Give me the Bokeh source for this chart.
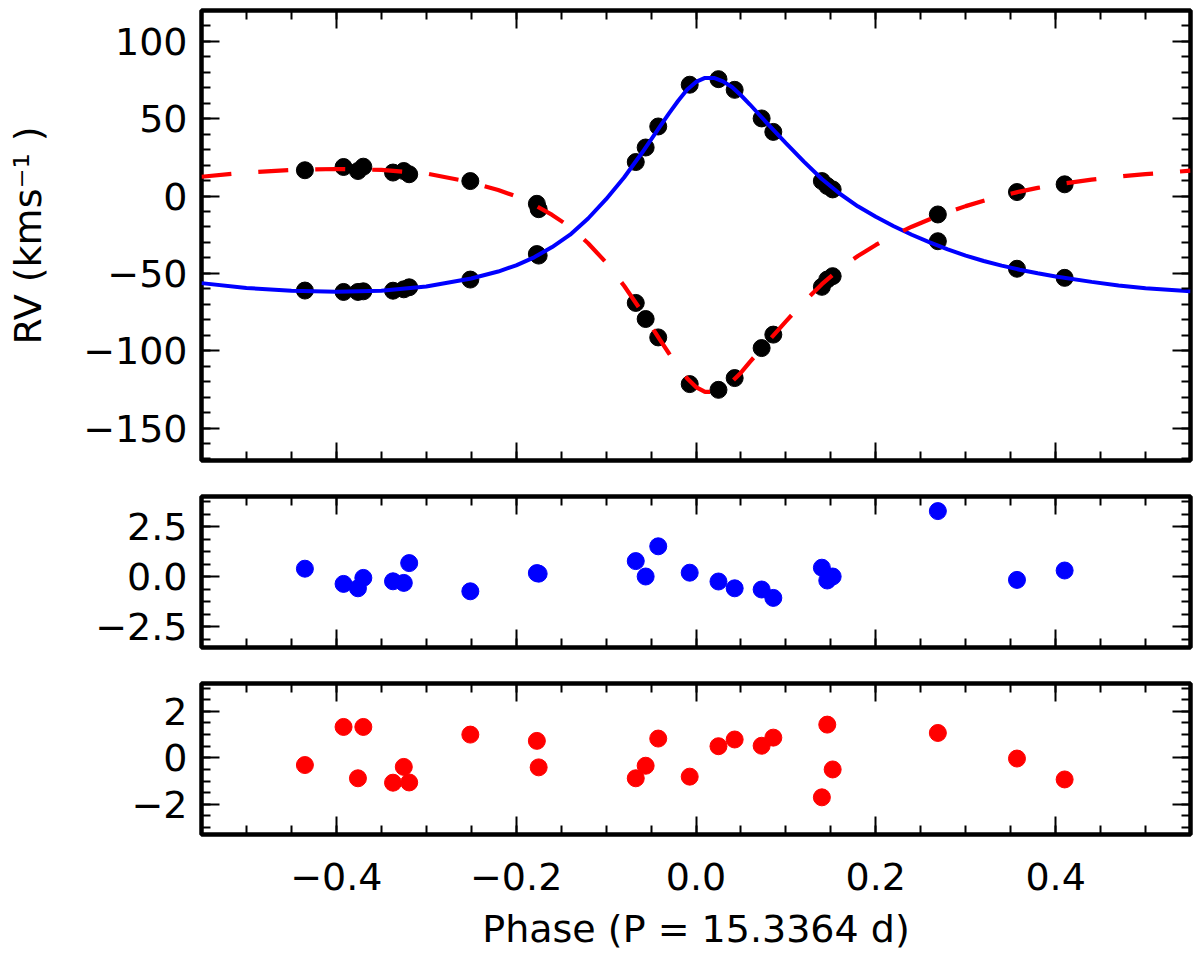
from bokeh.plotting import figure
from bokeh.layouts import column
from bokeh.models import (Range1d, LinearAxis, SingleIntervalTicker,
                          CustomJSTickFormatter)
from bokeh.embed import file_html
from bokeh.resources import INLINE

# observed phases (P = 15.3364 d)
phase = [-0.435, -0.392, -0.376, -0.370, -0.337, -0.325, -0.319, -0.251,
         -0.177, -0.175, -0.067, -0.056, -0.042, -0.007, 0.025, 0.043,
         0.073, 0.086, 0.140, 0.146, 0.152, 0.269, 0.357, 0.410]

# measured RVs (km/s)
rv_primary = [-61.1, -62.0, -62.0, -61.6, -61.2, -60.3, -59.0, -54.0,
              -37.5, -38.5, 22.0, 31.4, 45.0, 72.0, 75.6, 68.7,
              50.2, 41.5, 9.7, 6.5, 4.3, -29.2, -47.0, -52.9]
rv_secondary = [16.7, 18.8, 16.2, 19.0, 15.2, 16.2, 14.1, 9.7,
                -5.0, -8.5, -69.1, -79.5, -91.4, -121.6, -125.3, -117.7,
                -98.3, -89.6, -58.7, -54.0, -51.8, -11.9, 2.6, 7.6]

# residuals O-C (km/s)
res_primary = [0.39, -0.37, -0.59, -0.07, -0.24, -0.32, 0.67, -0.74,
               0.17, 0.14, 0.77, 0.0, 1.51, 0.19, -0.25, -0.59,
               -0.65, -1.07, 0.44, -0.2, 0.0, 3.27, -0.17, 0.3]
res_secondary = [-0.31, 1.33, -0.88, 1.33, -1.07, -0.39, -1.06, 1.0,
                 0.73, -0.41, -0.88, -0.34, 0.83, -0.81, 0.5, 0.79,
                 0.52, 0.87, -1.7, 1.43, -0.5, 1.07, -0.03, -0.93]

# orbit model curves
model_phase = [-0.55, -0.50, -0.45, -0.40, -0.35, -0.30, -0.25, -0.22,
               -0.20, -0.18, -0.16, -0.14, -0.12, -0.10, -0.08, -0.06,
               -0.04, -0.03, -0.02, -0.01, 0.00, 0.01, 0.02, 0.03, 0.04,
               0.05, 0.06, 0.08, 0.10, 0.12, 0.14, 0.16, 0.18, 0.20,
               0.22, 0.24, 0.26, 0.28, 0.30, 0.32, 0.34, 0.36, 0.38,
               0.40, 0.44, 0.47, 0.50, 0.55]
model_primary = [-56.3, -59.4, -61.2, -61.8, -61.2, -58.5, -53.3, -48.8,
                 -44.8, -39.6, -33.0, -25.0, -14.5, -2.0, 12.0, 28.0,
                 45.0, 53.5, 61.5, 68.8, 73.8, 76.4, 76.4, 74.2, 70.5,
                 65.2, 59.2, 46.5, 34.2, 22.3, 11.0, 1.5, -6.6, -13.4,
                 -19.5, -25.0, -30.0, -34.5, -38.5, -42.0, -45.0, -47.6, -49.9,
                 -52.0, -55.5, -57.8, -59.6, -61.5]
model_secondary = [12.5, 15.2, 16.9, 17.5, 16.9, 14.6, 8.9, 3.9,
                   -0.2, -5.6, -12.2, -20.0, -30.5, -43.0, -58.0, -75.0,
                   -93.0, -101.8, -110.3, -117.8, -123.5, -126.6, -126.6, -124.3, -120.0,
                   -114.2, -107.2, -94.0, -81.0, -68.5, -57.0, -47.0, -38.8, -31.6,
                   -25.3, -19.8, -15.0, -10.5, -6.5, -3.0, 0.1, 2.9, 5.3,
                   7.4, 10.6, 12.6, 14.2, 16.4]

FONT = "DejaVu Sans"
FS = "38px"
W = 1196
x_range = Range1d(-0.55, 0.55)


def fmt(digits):
    return CustomJSTickFormatter(code="""
        const t = Math.abs(tick) < 1e-9 ? 0 : tick;
        return t.toFixed(%d).replace('-', '\\u2212');
    """ % digits)


def style_axis(ax, interval, minor, digits=None):
    ax.ticker = SingleIntervalTicker(interval=interval, num_minor_ticks=minor)
    ax.axis_line_color = None
    ax.major_tick_in = 18
    ax.major_tick_out = 0
    ax.minor_tick_in = 9
    ax.minor_tick_out = 0
    ax.major_tick_line_width = 2
    ax.minor_tick_line_width = 2
    ax.major_tick_line_color = "black"
    ax.minor_tick_line_color = "black"
    if digits is None:
        ax.formatter = CustomJSTickFormatter(code="return '';")
        ax.major_label_text_font_size = "0px"
        ax.major_label_standoff = 0
    else:
        ax.formatter = fmt(digits)
        ax.major_label_text_font = FONT
        ax.major_label_text_font_size = FS
        ax.major_label_text_color = "black"


def panel(height, y_range, top, bottom, y_int, y_minor, y_digits, x_labels):
    p = figure(width=W, height=height, x_range=x_range, y_range=y_range,
               output_backend="svg", toolbar_location=None,
               min_border_left=201, min_border_right=6,
               min_border_top=top, min_border_bottom=bottom)
    p.grid.visible = False
    p.outline_line_color = "black"
    p.outline_line_width = 4.5
    p.background_fill_color = "white"
    p.border_fill_color = "white"
    xb = p.xaxis[0]
    yl = p.yaxis[0]
    style_axis(xb, 0.2, 4, 1 if x_labels else None)
    style_axis(yl, y_int, y_minor, y_digits)
    yl.major_label_standoff = 14
    top_ax = LinearAxis()
    style_axis(top_ax, 0.2, 4)
    p.add_layout(top_ax, "above")
    right_ax = LinearAxis()
    style_axis(right_ax, y_int, y_minor)
    p.add_layout(right_ax, "right")
    return p, xb, yl


# RV curve panel
p1, _, y1 = panel(478, Range1d(-171, 120), 10, 18, 50, 5, 0, False)
y1.axis_label = "RV (kms\u207b\u00b9 )"
y1.axis_label_text_font = FONT
y1.axis_label_text_font_size = FS
y1.axis_label_text_font_style = "normal"
y1.axis_label_text_color = "black"
y1.axis_label_standoff = 30
p1.scatter(phase, rv_primary, size=17, color="black")
p1.scatter(phase, rv_secondary, size=17, color="black")
p1.line(model_phase, model_primary, line_color="#0000ff", line_width=4)
p1.line(model_phase, model_secondary, line_color="#ff0000", line_width=4.2,
        line_dash="30 27")

# primary residuals
p2, _, _ = panel(187, Range1d(-3.55, 4.0), 18, 18, 2.5, 4, 1, False)
p2.scatter(phase, res_primary, size=17, color="#0000ff")

# secondary residuals
p3, x3, _ = panel(290, Range1d(-3.3, 3.2), 18, 121, 2, 4, 0, True)
p3.scatter(phase, res_secondary, size=17, color="#ff0000")
x3.major_label_standoff = 28
x3.axis_label = "Phase (P = 15.3364 d)"
x3.axis_label_text_font = FONT
x3.axis_label_text_font_size = FS
x3.axis_label_text_font_style = "normal"
x3.axis_label_text_color = "black"
x3.axis_label_standoff = 14

layout = column(p1, p2, p3, spacing=0)

with open("out.html", "w", encoding="utf-8") as f:
    f.write(file_html(layout, INLINE))
